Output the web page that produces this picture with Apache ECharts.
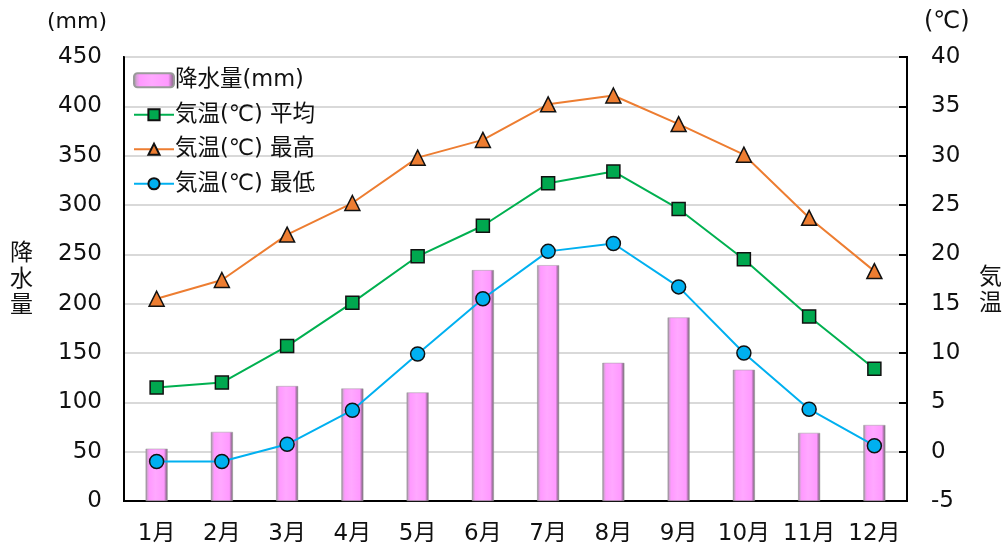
<!DOCTYPE html>
<html>
<head>
<meta charset="utf-8">
<script src="https://cdn.jsdelivr.net/npm/echarts@6/dist/echarts.min.js"></script>
<style>
  html, body { margin: 0; padding: 0; background: #fff; }
  #chart { width: 1005px; height: 551px; }
</style>
</head>
<body>
<div id="chart"></div>
<script>
// Monthly climate: precipitation (mm) and temperature (℃)
const months = ['1月','2月','3月','4月','5月','6月','7月','8月','9月','10月','11月','12月'];
const rainfall = [53, 70, 116.5, 114, 110, 234, 239, 140, 186, 133, 69, 77];
const tempAvg  = [6.5, 7.0, 10.7, 15.1, 19.8, 22.9, 27.2, 28.4, 24.6, 19.5, 13.7, 8.4];
const tempHigh = [15.5, 17.4, 22.0, 25.2, 29.8, 31.6, 35.2, 36.1, 33.2, 30.1, 23.7, 18.3];
const tempLow  = [-1.0, -1.0, 0.75, 4.2, 9.9, 15.5, 20.3, 21.1, 16.7, 10.0, 4.3, 0.6];

const FONT = 'DejaVu Sans, Noto Sans CJK JP, sans-serif';
const CJK = 'Noto Sans CJK JP, DejaVu Sans, sans-serif';
const TXT = '#111';

const chart = echarts.init(document.getElementById('chart'), null, { renderer: 'canvas' });

const barFill = new echarts.graphic.LinearGradient(0, 0, 1, 0, [
  { offset: 0.00, color: '#8a8a8a' },
  { offset: 0.09, color: '#d9a3d9' },
  { offset: 0.16, color: '#ff99ff' },
  { offset: 0.45, color: '#ffa8ff' },
  { offset: 0.84, color: '#ff99ff' },
  { offset: 0.91, color: '#b87ab8' },
  { offset: 1.00, color: '#6e6e6e' }
]);

function label(text, left, top, size, family, lh) {
  return {
    type: 'text', left: left, top: top,
    style: { text: text, fontFamily: family, fontSize: size, fill: TXT, lineHeight: lh || size }
  };
}

chart.setOption({
  animation: false,
  textStyle: { fontFamily: FONT, color: TXT },
  grid: {
    left: 124, right: 98, top: 57, bottom: 50,
    show: true, borderColor: '#000', borderWidth: 2, backgroundColor: 'transparent'
  },
  legend: {
    orient: 'vertical',
    left: 128, top: 64,
    itemWidth: 40, itemHeight: 14, itemGap: 12,
    textStyle: { fontFamily: FONT, fontSize: 22.5, color: TXT, padding: [0, 0, 0, -4] },
    data: ['降水量(mm)', '気温(℃) 平均', '気温(℃) 最高', '気温(℃) 最低']
  },
  xAxis: {
    type: 'category',
    data: months,
    axisLine: { show: true, lineStyle: { color: '#000', width: 2 } },
    axisTick: { show: false },
    axisLabel: { interval: 0, fontFamily: FONT, fontSize: 23, color: TXT, margin: 22 }
  },
  yAxis: [
    {
      type: 'value', min: 0, max: 450, interval: 50,
      axisLine: { show: true, lineStyle: { color: '#000', width: 2 } },
      axisTick: { show: false },
      axisLabel: { fontFamily: FONT, fontSize: 23, color: TXT, margin: 22 },
      splitLine: { show: true, lineStyle: { color: '#d9d9d9', width: 2 } }
    },
    {
      type: 'value', min: -5, max: 40, interval: 5,
      position: 'right',
      axisLine: { show: true, lineStyle: { color: '#000', width: 2 } },
      axisTick: { show: true, inside: true, length: 8, lineStyle: { color: '#000', width: 2 } },
      axisLabel: { fontFamily: FONT, fontSize: 23, color: TXT, margin: 24 },
      splitLine: { show: false }
    }
  ],
  graphic: [
    label('(mm)', 47, 11, 22, FONT),
    label('(℃)', 924, 10, 24, FONT),
    label('降\n水\n量', 10, 238, 23, CJK, 26),
    label('気\n温', 979, 262, 23, CJK, 26)
  ],
  series: [
    {
      name: '降水量(mm)',
      type: 'bar',
      yAxisIndex: 0,
      data: rainfall,
      barWidth: 22,
      itemStyle: { color: barFill, borderColor: '#9a9a9a', borderWidth: 0.5 },
      z: 1
    },
    {
      name: '気温(℃) 平均',
      type: 'line',
      yAxisIndex: 1,
      data: tempAvg,
      symbol: 'rect', symbolSize: 13,
      lineStyle: { color: '#00b050', width: 2 },
      itemStyle: { color: '#00a84f', borderColor: '#111', borderWidth: 1.5 },
      z: 3
    },
    {
      name: '気温(℃) 最高',
      type: 'line',
      yAxisIndex: 1,
      data: tempHigh,
      symbol: 'triangle', symbolSize: 15,
      lineStyle: { color: '#ed7d31', width: 2 },
      itemStyle: { color: '#ed7d31', borderColor: '#111', borderWidth: 1.5 },
      z: 3
    },
    {
      name: '気温(℃) 最低',
      type: 'line',
      yAxisIndex: 1,
      data: tempLow,
      symbol: 'circle', symbolSize: 14,
      lineStyle: { color: '#00b0f0', width: 2 },
      itemStyle: { color: '#00b0f0', borderColor: '#111', borderWidth: 1.5 },
      z: 3
    }
  ]
});
</script>
</body>
</html>
